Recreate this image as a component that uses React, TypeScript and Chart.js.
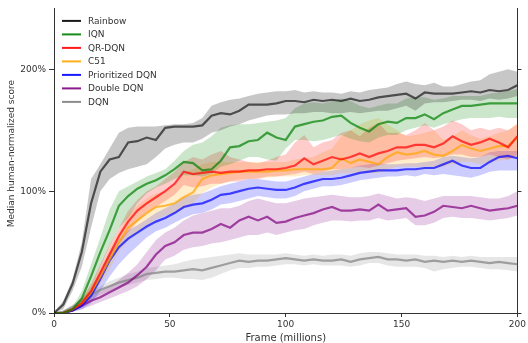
import React, { useEffect, useRef } from 'react';
import { Chart, registerables } from 'chart.js';

Chart.register(...registerables);

const FRAMES = [0, 4, 8, 12, 16, 20, 24, 28, 32, 36, 40, 44, 48, 52, 56, 60, 64, 68, 72, 76, 80, 84, 88, 92, 96, 100, 104, 108, 112, 116, 120, 124, 128, 132, 136, 140, 144, 148, 152, 156, 160, 164, 168, 172, 176, 180, 184, 188, 192, 196, 200];

const Y_TICKS = [0, 100, 200];
const X_TICKS = [0, 50, 100, 150, 200];
const X_TITLE = 'Frame (millions)';
const Y_TITLE = 'Median human-normalized score';

const RAINBOW = [0, 7, 24, 50, 90, 116, 126, 128, 140, 141, 144, 142, 152, 153, 153, 153, 154, 162, 164, 163, 166, 171, 171, 171, 172, 174, 174, 173, 175, 174, 175, 174, 176, 174, 175, 177, 178, 179, 180, 176, 181, 180, 180, 180, 181, 182, 181, 183, 182, 183, 187];
const RAINBOW_HI = [0, 10, 28, 58, 110, 122, 135, 148, 152, 153, 153, 153, 154, 155, 155, 156, 160, 170, 173, 175, 176, 178, 180, 181, 182, 182, 183, 181, 182, 181, 181, 180, 182, 181, 183, 184, 185, 188, 190, 188, 187, 189, 186, 186, 188, 190, 191, 196, 198, 200, 198];
const RAINBOW_LO = [0, 3, 18, 38, 70, 100, 110, 115, 118, 120, 122, 128, 135, 138, 140, 140, 143, 148, 150, 153, 155, 158, 160, 162, 163, 163, 164, 164, 165, 165, 164, 164, 165, 164, 165, 166, 166, 168, 170, 166, 172, 173, 173, 174, 175, 175, 174, 176, 175, 176, 178];

const IQN = [0, 0, 3, 12, 30, 50, 68, 88, 96, 102, 106, 109, 113, 118, 124, 123, 117, 118, 125, 136, 137, 141, 142, 148, 144, 142, 153, 155, 157, 158, 161, 162, 156, 152, 149, 155, 157, 156, 160, 160, 163, 159, 164, 167, 170, 170, 171, 172, 172, 172, 172];
const IQN_HI = [0, 1, 5, 18, 40, 62, 85, 100, 104, 108, 112, 115, 118, 125, 133, 138, 140, 145, 152, 154, 155, 155, 156, 157, 158, 160, 168, 172, 173, 172, 174, 176, 174, 170, 168, 170, 172, 172, 176, 177, 177, 175, 176, 178, 178, 178, 178, 180, 181, 182, 184];
const IQN_LO = [0, 0, 1, 6, 20, 38, 55, 70, 78, 90, 98, 103, 106, 110, 113, 113, 112, 114, 120, 122, 125, 128, 128, 126, 125, 135, 142, 142, 141, 142, 144, 146, 143, 141, 140, 144, 146, 146, 150, 152, 154, 152, 155, 157, 159, 160, 160, 160, 161, 160, 160];

const QRDQN = [0, 0, 3, 8, 18, 33, 48, 63, 75, 84, 90, 95, 100, 106, 116, 114, 115, 116, 115, 116, 116, 117, 117, 118, 118, 119, 121, 127, 122, 125, 128, 126, 128, 131, 128, 131, 133, 136, 136, 138, 138, 136, 139, 145, 141, 138, 140, 143, 140, 136, 145];
const QRDQN_HI = [0, 1, 5, 12, 24, 40, 56, 70, 84, 93, 100, 104, 110, 116, 124, 128, 126, 130, 133, 128, 126, 124, 123, 125, 128, 130, 140, 146, 136, 140, 142, 148, 150, 145, 152, 156, 148, 148, 146, 150, 156, 150, 153, 158, 155, 150, 152, 150, 152, 150, 155];
const QRDQN_LO = [0, 0, 1, 5, 14, 28, 42, 56, 66, 75, 82, 87, 92, 97, 105, 103, 104, 106, 106, 108, 108, 110, 110, 112, 112, 113, 114, 116, 114, 116, 118, 118, 119, 120, 119, 121, 123, 125, 126, 127, 128, 127, 128, 130, 130, 128, 128, 130, 128, 126, 130];

const C51 = [0, 0, 3, 8, 17, 30, 44, 58, 70, 76, 82, 87, 88, 90, 95, 99, 110, 113, 114, 115, 116, 116, 116, 116, 117, 117, 118, 118, 118, 118, 119, 127, 123, 126, 124, 122, 128, 132, 130, 131, 133, 130, 129, 133, 138, 135, 133, 135, 137, 137, 144];
const C51_HI = [0, 1, 5, 12, 22, 37, 52, 66, 80, 88, 94, 98, 100, 104, 115, 118, 122, 124, 124, 124, 124, 124, 124, 124, 124, 124, 126, 127, 128, 132, 135, 145, 150, 155, 158, 160, 155, 150, 145, 146, 148, 150, 142, 145, 150, 146, 143, 145, 148, 150, 156];
const C51_LO = [0, 0, 1, 5, 12, 24, 36, 50, 60, 66, 72, 77, 80, 82, 86, 90, 98, 103, 106, 108, 110, 110, 111, 111, 112, 112, 112, 113, 113, 113, 113, 115, 115, 116, 115, 115, 118, 120, 120, 120, 120, 120, 120, 122, 124, 124, 122, 124, 125, 126, 128];

const PRIO = [0, 0, 2, 6, 14, 28, 43, 54, 61, 66, 71, 75, 78, 82, 87, 89, 90, 93, 97, 98, 100, 102, 103, 102, 101, 101, 103, 106, 108, 110, 110, 111, 113, 115, 116, 117, 117, 117, 118, 118, 119, 119, 122, 125, 121, 119, 119, 124, 128, 129, 127];
const PRIO_HI = [0, 1, 4, 10, 20, 34, 50, 60, 68, 72, 77, 82, 86, 90, 95, 97, 98, 101, 104, 106, 108, 110, 110, 109, 108, 108, 110, 112, 114, 116, 117, 118, 119, 121, 122, 123, 122, 122, 123, 123, 124, 125, 128, 129, 128, 127, 128, 132, 133, 133, 133];
const PRIO_LO = [0, 0, 1, 3, 8, 18, 30, 40, 48, 55, 62, 67, 70, 74, 78, 81, 82, 85, 89, 90, 92, 94, 96, 95, 94, 94, 96, 100, 102, 104, 104, 105, 107, 109, 110, 111, 112, 112, 113, 112, 114, 113, 114, 113, 112, 111, 113, 116, 117, 117, 117];

const DDQN = [0, 0, 2, 6, 10, 13, 17, 21, 25, 31, 38, 48, 55, 58, 64, 66, 66, 69, 73, 70, 76, 79, 76, 79, 74, 75, 78, 80, 82, 85, 87, 84, 84, 85, 84, 89, 84, 85, 86, 79, 80, 83, 88, 87, 86, 88, 86, 84, 85, 86, 88];
const DDQN_HI = [0, 1, 4, 9, 14, 18, 22, 27, 33, 40, 50, 60, 66, 70, 76, 80, 82, 84, 86, 86, 88, 92, 94, 92, 90, 90, 92, 94, 95, 96, 97, 96, 95, 95, 96, 98, 96, 94, 95, 94, 92, 94, 96, 96, 96, 96, 95, 94, 94, 96, 100];
const DDQN_LO = [0, 0, 1, 3, 6, 9, 12, 15, 18, 22, 28, 35, 44, 47, 52, 54, 55, 57, 58, 60, 62, 64, 64, 66, 64, 66, 68, 69, 72, 74, 76, 76, 75, 76, 76, 78, 76, 77, 78, 72, 72, 74, 78, 79, 78, 78, 77, 76, 77, 78, 80];

const DQN = [0, 1, 5, 10, 15, 19, 22, 25, 27, 29, 32, 33, 34, 34, 35, 36, 35, 37, 39, 41, 43, 42, 43, 43, 44, 45, 44, 43, 44, 43, 43, 44, 42, 44, 45, 46, 44, 44, 43, 44, 42, 43, 42, 43, 42, 43, 42, 41, 42, 41, 40];
const DQN_HI = [0, 2, 7, 13, 18, 22, 26, 29, 32, 34, 37, 38, 39, 40, 42, 44, 45, 46, 47, 48, 49, 48, 48, 48, 48, 49, 48, 47, 48, 47, 48, 48, 47, 49, 50, 50, 49, 48, 48, 48, 47, 47, 46, 47, 46, 47, 46, 46, 46, 46, 46];
const DQN_LO = [0, 0, 3, 7, 11, 15, 18, 21, 23, 25, 27, 28, 29, 29, 28, 28, 27, 29, 32, 35, 37, 37, 38, 38, 39, 40, 40, 39, 40, 39, 39, 39, 38, 39, 41, 41, 39, 38, 38, 38, 37, 34, 36, 37, 38, 38, 37, 36, 36, 35, 34];

const SERIES = [
  { name: 'Rainbow', mean: RAINBOW, lo: RAINBOW_LO, hi: RAINBOW_HI, rgb: '0,0,0', lineAlpha: 0.62, bandAlpha: 0.22 },
  { name: 'IQN', mean: IQN, lo: IQN_LO, hi: IQN_HI, rgb: '0,128,0', lineAlpha: 0.7, bandAlpha: 0.2 },
  { name: 'QR-DQN', mean: QRDQN, lo: QRDQN_LO, hi: QRDQN_HI, rgb: '255,0,0', lineAlpha: 0.7, bandAlpha: 0.2 },
  { name: 'C51', mean: C51, lo: C51_LO, hi: C51_HI, rgb: '255,165,0', lineAlpha: 0.7, bandAlpha: 0.2 },
  { name: 'Prioritized DQN', mean: PRIO, lo: PRIO_LO, hi: PRIO_HI, rgb: '0,0,255', lineAlpha: 0.7, bandAlpha: 0.2 },
  { name: 'Double DQN', mean: DDQN, lo: DDQN_LO, hi: DDQN_HI, rgb: '128,0,128', lineAlpha: 0.7, bandAlpha: 0.2 },
  { name: 'DQN', mean: DQN, lo: DQN_LO, hi: DQN_HI, rgb: '128,128,128', lineAlpha: 0.7, bandAlpha: 0.2 },
];

const FONT = "'DejaVu Sans', sans-serif";
const TEXT = '#333333';

const toPts = (vals: number[]) => FRAMES.map((f, i) => ({ x: f, y: vals[i] }));

const legendPlugin = {
  id: 'rlLegend',
  afterDraw(chart: any) {
    const { ctx, chartArea } = chart;
    ctx.save();
    ctx.font = `9px ${FONT}`;
    ctx.textBaseline = 'middle';
    ctx.textAlign = 'left';
    SERIES.forEach((s, i) => {
      const y = chartArea.top + 12.5 + i * 13.5;
      const x = chartArea.left + 8;
      ctx.strokeStyle = `rgba(${s.rgb},0.9)`;
      ctx.lineWidth = 2;
      ctx.beginPath();
      ctx.moveTo(x, y);
      ctx.lineTo(x + 19, y);
      ctx.stroke();
      ctx.fillStyle = TEXT;
      ctx.fillText(s.name, x + 26, y + 0.5);
    });
    // y-axis title
    ctx.translate(12, chartArea.top + (chartArea.bottom - chartArea.top) / 2 - 7);
    ctx.rotate(-Math.PI / 2);
    ctx.textAlign = 'center';
    ctx.fillText(Y_TITLE, 0, 0);
    ctx.restore();
  },
};

export default function App() {
  const ref = useRef<HTMLCanvasElement | null>(null);

  useEffect(() => {
    if (!ref.current) return;
    const datasets: any[] = [];
    SERIES.forEach((s) => {
      const loIndex = datasets.length;
      datasets.push({
        label: s.name + ' lo',
        data: toPts(s.lo),
        borderWidth: 0,
        pointRadius: 0,
        fill: false,
        borderColor: 'rgba(0,0,0,0)',
      });
      datasets.push({
        label: s.name + ' hi',
        data: toPts(s.hi),
        borderWidth: 0,
        pointRadius: 0,
        borderColor: 'rgba(0,0,0,0)',
        backgroundColor: `rgba(${s.rgb},${s.bandAlpha})`,
        fill: loIndex,
      });
      datasets.push({
        label: s.name,
        data: toPts(s.mean),
        borderWidth: 2.2,
        pointRadius: 0,
        borderColor: `rgba(${s.rgb},${s.lineAlpha})`,
        fill: false,
        tension: 0,
      });
    });

    const chart = new Chart(ref.current, {
      type: 'line',
      data: { datasets },
      options: {
        animation: false,
        responsive: false,
        maintainAspectRatio: false,
        layout: { padding: { top: 7, left: 0, right: 0, bottom: 0 } },
        plugins: {
          legend: { display: false },
          tooltip: { enabled: false },
          filler: { drawTime: 'beforeDatasetsDraw' } as any,
        },
        scales: {
          x: {
            type: 'linear',
            min: 0,
            max: 200,
            afterBuildTicks: (scale: any) => {
              scale.ticks = X_TICKS.map((v) => ({ value: v }));
            },
            ticks: { color: TEXT, font: { family: FONT, size: 9 }, padding: 2, maxRotation: 0 },
            grid: { display: true, drawOnChartArea: false, drawTicks: true, tickLength: 4, tickColor: TEXT },
            border: { display: true, color: TEXT, width: 1 },
            title: { display: true, text: X_TITLE, color: TEXT, font: { family: FONT, size: 10, lineHeight: 1 }, padding: { top: 0, bottom: 0 } },
            afterFit: (scale: any) => { scale.height = 30; },
          },
          y: {
            type: 'linear',
            position: 'left',
            min: 0,
            max: 250,
            afterBuildTicks: (scale: any) => {
              scale.ticks = Y_TICKS.map((v) => ({ value: v }));
            },
            ticks: { color: TEXT, font: { family: FONT, size: 9 }, padding: 3, callback: (v: any) => `${v}%` },
            grid: { display: true, drawOnChartArea: false, drawTicks: true, tickLength: 5, tickColor: TEXT },
            border: { display: true, color: TEXT, width: 1 },
            title: { display: false },
            afterFit: (scale: any) => { scale.width = 54; },
          },
          y2: {
            type: 'linear',
            position: 'right',
            min: 0,
            max: 250,
            afterBuildTicks: (scale: any) => {
              scale.ticks = Y_TICKS.map((v) => ({ value: v }));
            },
            ticks: { display: false },
            grid: { display: true, drawOnChartArea: false, drawTicks: true, tickLength: 4, tickColor: TEXT },
            border: { display: true, color: TEXT, width: 1 },
            afterFit: (scale: any) => { scale.width = 10; },
          },
        },
      },
      plugins: [legendPlugin],
    });
    return () => chart.destroy();
  }, []);

  return (
    <div style={{ position: 'fixed', left: 0, top: 0, width: 528, height: 343, background: '#fff' }}>
      <canvas ref={ref} width={528} height={343} style={{ width: 528, height: 343, display: 'block' }} />
    </div>
  );
}
